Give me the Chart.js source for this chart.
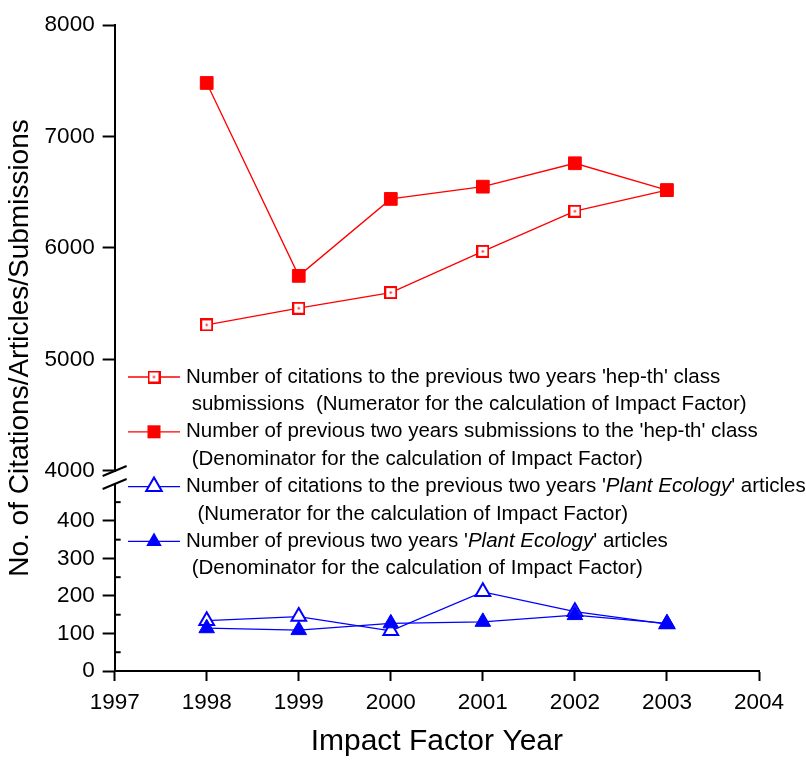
<!DOCTYPE html>
<html><head><meta charset="utf-8">
<script src="https://cdn.jsdelivr.net/npm/chart.js@4/dist/chart.umd.min.js"></script>
<style>html,body{margin:0;padding:0;background:#fff}#wrap{width:806px;height:760px}</style>
</head><body><div id="wrap"><canvas id="c" width="806" height="760"></canvas></div>
<script>
// ---- data ----
const years = [1998, 1999, 2000, 2001, 2002, 2003];
const hepCitations = [5310, 5460, 5600, 5970, 6330, 6520];
const hepSubmissions = [7480, 5750, 6440, 6550, 6760, 6520];
const peCitations = [134, 145, 107, 211, 158, 125];
const peArticles = [114, 109, 127, 131, 149, 127];
const xTicks = [1997, 1998, 1999, 2000, 2001, 2002, 2003, 2004];
const yTopTicks = [4000, 5000, 6000, 7000, 8000];
const yBotTicks = [0, 100, 200, 300, 400];
const yBotMinor = [50, 150, 250, 350, 450];
const xTitle = 'Impact Factor Year';
const yTitle = 'No. of Citations/Articles/Submissions';
const labelHepCit = [[["Number of citations to the previous two years 'hep-th' class", false]],
                     [[" submissions  (Numerator for the calculation of Impact Factor)", false]]];
const labelHepSub = [[["Number of previous two years submissions to the 'hep-th' class", false]],
                     [[" (Denominator for the calculation of Impact Factor)", false]]];
const labelPeCit = [[["Number of citations to the previous two years '", false], ["Plant Ecology", true], ["' articles", false]],
                    [["  (Numerator for the calculation of Impact Factor)", false]]];
const labelPeArt = [[["Number of previous two years '", false], ["Plant Ecology", true], ["' articles", false]],
                    [[" (Denominator for the calculation of Impact Factor)", false]]];

const RED = '#ff0000', BLUE = '#0000ff';
const FONT = '"Liberation Sans", Arial, Helvetica, sans-serif';
Chart.defaults.font.family = FONT;
Chart.defaults.color = '#000';

function openSquare() {
  const c = document.createElement('canvas');
  c.width = 13; c.height = 13;
  const g = c.getContext('2d');
  g.fillStyle = '#fff'; g.fillRect(0, 0, 13, 13);
  g.strokeStyle = RED; g.lineWidth = 2;
  g.strokeRect(1, 1, 11, 11);
  g.fillStyle = RED; g.fillRect(5.5, 5.5, 2, 2);
  return c;
}
const openSq = openSquare();

const pts = (arr) => years.map((y, i) => ({x: y, y: arr[i]}));

const datasets = [
  {label: 'hepCit', data: pts(hepCitations), yAxisID: 'yTop', borderColor: RED, borderWidth: 1.3, order: 1,
   pointStyle: openSq, pointRadius: 7, legendRows: labelHepCit, marker: 'openSq'},
  {label: 'hepSub', data: pts(hepSubmissions), yAxisID: 'yTop', borderColor: RED, backgroundColor: RED, borderWidth: 1.3, order: 0,
   pointStyle: 'rect', pointRadius: 9, pointBorderWidth: 1, pointBackgroundColor: RED, legendRows: labelHepSub, marker: 'fillSq'},
  {label: 'peCit', data: pts(peCitations), yAxisID: 'yBot', borderColor: BLUE, borderWidth: 1.3, order: 1,
   pointStyle: 'triangle', pointRadius: 8.5, pointBorderWidth: 2, pointBackgroundColor: '#fff', legendRows: labelPeCit, marker: 'openTri'},
  {label: 'peArt', data: pts(peArticles), yAxisID: 'yBot', borderColor: BLUE, backgroundColor: BLUE, borderWidth: 1.3, order: 0,
   pointStyle: 'triangle', pointRadius: 9, pointBorderWidth: 1, pointBackgroundColor: BLUE, legendRows: labelPeArt, marker: 'fillTri'}
];

const tickGrid = {display: true, drawOnChartArea: false, drawTicks: true, tickLength: 12, tickWidth: 2, tickColor: '#000'};
const border = {display: true, color: '#000', width: 2};

const breakPlugin = {
  id: 'axisBreak',
  afterDraw(chart) {
    const ctx = chart.ctx, yT = chart.scales.yTop, yB = chart.scales.yBot;
    const ax = chart.chartArea.left;
    ctx.save();
    ctx.strokeStyle = '#000'; ctx.lineWidth = 2;
    yBotMinor.forEach(v => {
      const py = yB.getPixelForValue(v);
      ctx.beginPath(); ctx.moveTo(ax, py); ctx.lineTo(ax + 6, py); ctx.stroke();
    });
    const b = yT.bottom;
    ctx.fillStyle = '#fff';
    ctx.fillRect(ax - 3, b - 5, 6, 12);
    ctx.lineWidth = 2;
    ctx.beginPath(); ctx.moveTo(ax - 12, b - 1); ctx.lineTo(ax + 12, b - 11); ctx.stroke();
    ctx.beginPath(); ctx.moveTo(ax - 12, b + 12); ctx.lineTo(ax + 12, b + 2); ctx.stroke();
    ctx.restore();
  }
};

function drawMarker(ctx, kind, x, y, color) {
  ctx.save();
  if (kind === 'openSq') {
    ctx.drawImage(openSq, x - 6.5, y - 6.5);
  } else if (kind === 'fillSq') {
    ctx.fillStyle = color; ctx.fillRect(x - 6.5, y - 6.5, 13, 13);
  } else {
    const r = 9;
    ctx.beginPath();
    ctx.moveTo(x, y - r);
    ctx.lineTo(x + r * Math.sin(2 * Math.PI / 3), y - r * Math.cos(2 * Math.PI / 3));
    ctx.lineTo(x + r * Math.sin(4 * Math.PI / 3), y - r * Math.cos(4 * Math.PI / 3));
    ctx.closePath();
    if (kind === 'fillTri') { ctx.fillStyle = color; ctx.fill(); }
    else { ctx.fillStyle = '#fff'; ctx.fill(); ctx.strokeStyle = color; ctx.lineWidth = 2; ctx.stroke(); }
  }
  ctx.restore();
}

const legendPlugin = {
  id: 'textLegend',
  afterDraw(chart) {
    const ctx = chart.ctx;
    const startY = 377, step = 27.4, textX = 186, size = 20.5;
    let row = 0;
    ctx.save();
    ctx.textBaseline = 'middle';
    chart.data.datasets.forEach(ds => {
      const y = startY + row * step;
      ctx.strokeStyle = ds.borderColor; ctx.lineWidth = 1.3;
      ctx.beginPath(); ctx.moveTo(128, y); ctx.lineTo(180, y); ctx.stroke();
      drawMarker(ctx, ds.marker, 154, y, ds.borderColor);
      ds.legendRows.forEach((segs, k) => {
        const ly = startY + (row + k) * step;
        let x = textX;
        segs.forEach(([t, it]) => {
          ctx.font = (it ? 'italic ' : '') + size + 'px ' + FONT;
          ctx.fillStyle = '#000';
          ctx.fillText(t, x, ly);
          x += ctx.measureText(t).width;
        });
      });
      row += ds.legendRows.length;
    });
    ctx.restore();
  }
};

new Chart(document.getElementById('c'), {
  type: 'line',
  data: {datasets},
  options: {
    responsive: false, animation: false, devicePixelRatio: 1,
    layout: {padding: {left: 3, right: 47, top: 25, bottom: 0}},
    plugins: {
      legend: {display: false}, tooltip: {enabled: false},
      title: {display: true, position: 'left', text: yTitle, fullSize: false,
              font: {size: 28, weight: 'normal', family: FONT}, color: '#000', padding: {top: 0, bottom: 0}}
    },
    scales: {
      x: {type: 'linear', position: 'bottom', min: 1997, max: 2004,
          afterBuildTicks: s => { s.ticks = xTicks.map(v => ({value: v})); },
          ticks: {callback: v => String(v), font: {size: 22.5}, color: '#000', padding: 8, maxRotation: 0, autoSkip: false},
          grid: {...tickGrid, tickLength: 10}, border,
          title: {display: true, text: xTitle, font: {size: 30}, color: '#000', padding: {top: 0, bottom: 0}}},
      yBot: {type: 'linear', position: 'left', stack: 'y', stackWeight: 194, min: 0, max: 517,
          afterBuildTicks: s => { s.ticks = yBotTicks.map(v => ({value: v})); },
          ticks: {font: {size: 22.5}, color: '#000', padding: 8, autoSkip: false, callback: v => String(v)},
          grid: tickGrid, border},
      yTop: {type: 'linear', position: 'left', stack: 'y', stackWeight: 452, min: 3946, max: 8000,
          afterBuildTicks: s => { s.ticks = yTopTicks.map(v => ({value: v})); },
          ticks: {font: {size: 22.5}, color: '#000', padding: 8, autoSkip: false, callback: v => String(v)},
          grid: tickGrid, border}
    }
  },
  plugins: [breakPlugin, legendPlugin]
});
</script></body></html>
